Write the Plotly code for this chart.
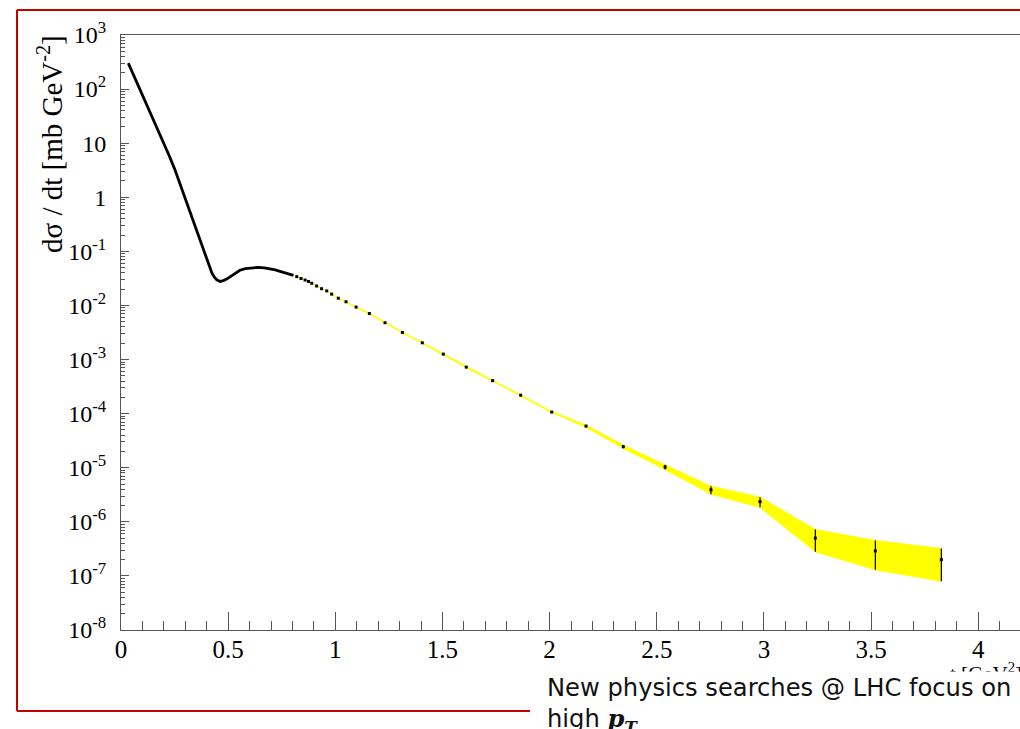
import plotly.graph_objects as go

# Elastic pp differential cross-section dσ/dt versus |t|

# densely measured low-|t| region, drawn as a continuous curve
t_dense = [0.034, 0.06, 0.09, 0.12, 0.15, 0.18, 0.205, 0.225, 0.25, 0.275,
           0.299, 0.33, 0.36, 0.39, 0.41, 0.423, 0.435, 0.447, 0.462, 0.478,
           0.495, 0.509, 0.532, 0.555, 0.58, 0.602, 0.641, 0.67, 0.695, 0.72,
           0.742, 0.765, 0.789, 0.805]
dsdt_dense = [302, 178, 96, 51, 27.7, 14.9, 8.9, 5.85, 3.35, 1.79,
              0.96, 0.425, 0.21, 0.0975, 0.058, 0.041, 0.0335, 0.0297, 0.0278, 0.0288,
              0.0310, 0.0335, 0.0395, 0.0447, 0.0478, 0.0494, 0.0507, 0.0497, 0.0479, 0.0453,
              0.0427, 0.0403, 0.0380, 0.0360]

# individual points at larger |t| with their uncertainties
t_pts = [0.82, 0.84, 0.859, 0.875, 0.89, 0.913, 0.936, 0.96, 0.983,
         1.014, 1.05, 1.097, 1.159, 1.232, 1.313, 1.406, 1.504, 1.611, 1.734,
         1.865, 2.01, 2.17, 2.344, 2.539, 2.753, 2.982, 3.24, 3.52, 3.828]
dsdt_pts = [0.0341, 0.0315, 0.0295, 0.0278, 0.0257, 0.0229, 0.0204, 0.0186, 0.0162,
            0.0136, 0.0117, 0.00933, 0.00708, 0.00479, 0.00316, 0.00204, 0.00126, 7.24e-4, 4.07e-4,
            2.19e-4, 1.07e-4, 5.89e-5, 2.45e-5, 1.03e-5, 3.9e-6, 2.35e-6, 5.0e-7, 2.9e-7, 2.0e-7]
err_pts = [3e-4, 3e-4, 3e-4, 3e-4, 3e-4, 3e-4, 3e-4, 2.5e-4, 2.5e-4,
           2e-4, 1.8e-4, 1.5e-4, 1.1e-4, 8e-5, 5e-5, 3.5e-5, 2.2e-5, 1.3e-5, 7e-6,
           4e-6, 2.1e-6, 2.7e-6, 1.7e-6, 1.0e-6, 6.5e-7, 5.0e-7, 2.2e-7, 1.6e-7, 1.2e-7]

x_tickvals = [0, 0.5, 1, 1.5, 2, 2.5, 3, 3.5, 4]
x_ticktext = ["0", "0.5", "1", "1.5", "2", "2.5", "3", "3.5", "4"]
y_tickvals = [1e3, 1e2, 10, 1, 1e-1, 1e-2, 1e-3, 1e-4, 1e-5, 1e-6, 1e-7, 1e-8]
y_ticktext = ["10<sup>3</sup>", "10<sup>2</sup>", "10", "1", "10<sup>-1</sup>",
              "10<sup>-2</sup>", "10<sup>-3</sup>", "10<sup>-4</sup>", "10<sup>-5</sup>",
              "10<sup>-6</sup>", "10<sup>-7</sup>", "10<sup>-8</sup>"]

W, H = 1020, 729
L, R, T, B = 121, 0, 35, 99
PW, PH = W - L - R, H - T - B


def fx(p):
    return (p - L) / PW


def fy(p):
    return (H - B - p) / PH


fig = go.Figure()

# uncertainty band
band_x = t_pts + t_pts[::-1]
band_y = [v + e for v, e in zip(dsdt_pts, err_pts)] + \
         [v - e for v, e in zip(dsdt_pts, err_pts)][::-1]
fig.add_trace(go.Scatter(x=band_x, y=band_y, mode="lines", fill="toself",
                         fillcolor="#ffff00", line=dict(color="#ffff00", width=1),
                         hoverinfo="skip", showlegend=False))

fig.add_trace(go.Scatter(x=t_dense, y=dsdt_dense, mode="lines",
                         line=dict(color="black", width=2.8),
                         showlegend=False))

fig.add_trace(go.Scatter(x=t_pts, y=dsdt_pts, mode="markers",
                         marker=dict(color="black", size=3, symbol="square"),
                         error_y=dict(type="data", array=err_pts, visible=True,
                                      color="black", thickness=1.2, width=0),
                         showlegend=False))

serif = "Liberation Serif, Times New Roman, serif"
axcol = "#555555"

fig.update_xaxes(range=[0, PW / 214.3], showline=True, linecolor=axcol, linewidth=1,
                 mirror=True, ticks="inside", ticklen=18, tickwidth=1, tickcolor=axcol,
                 tickmode="array", tickvals=x_tickvals, ticktext=x_ticktext,
                 tickfont=dict(family=serif, size=25, color="black"),
                 ticklabelstandoff=-3,
                 showgrid=False, zeroline=False,
                 minor=dict(ticks="inside", ticklen=9, dtick=0.1, tick0=0,
                            tickcolor=axcol, tickwidth=1, showgrid=False))
fig.update_yaxes(type="log", range=[-8, 3], showline=True, linecolor=axcol, linewidth=1,
                 ticks="inside", ticklen=8, tickwidth=1, tickcolor=axcol,
                 tickmode="array", tickvals=y_tickvals, ticktext=y_ticktext,
                 tickfont=dict(family=serif, size=24, color="black"),
                 ticklabelstandoff=9,
                 showgrid=False, zeroline=False,
                 minor=dict(ticks="inside", ticklen=4, dtick="D1",
                            tickcolor=axcol, tickwidth=1, showgrid=False))

red = "#c80000"
fig.update_layout(
    width=W, height=H, margin=dict(l=L, r=R, t=T, b=B, autoexpand=False),
    paper_bgcolor="white", plot_bgcolor="white",
    shapes=[
        dict(type="line", xref="paper", yref="paper", x0=fx(17), x1=fx(1030),
             y0=fy(10), y1=fy(10), line=dict(color=red, width=2)),
        dict(type="line", xref="paper", yref="paper", x0=fx(17), x1=fx(17),
             y0=fy(10), y1=fy(711), line=dict(color=red, width=2)),
        dict(type="line", xref="paper", yref="paper", x0=fx(17), x1=fx(530),
             y0=fy(711), y1=fy(711), line=dict(color=red, width=2)),
    ],
    annotations=[
        dict(xref="paper", yref="paper", x=fx(50), y=fy(33), xanchor="center",
             yanchor="top", textangle=-90, showarrow=False,
             text="dσ / dt [mb GeV<sup>-2</sup>]",
             font=dict(family=serif, size=29, color="black")),
        dict(xref="paper", yref="paper", x=fx(1024), y=fy(657), xanchor="right",
             yanchor="top", showarrow=False, text="-t [GeV<sup>2</sup>]",
             font=dict(family=serif, size=21, color="black")),
        dict(xref="paper", yref="paper", x=fx(544), y=fy(671), xanchor="left",
             yanchor="top", showarrow=False, align="left", width=490,
             bgcolor="white", borderpad=2,
             text="New physics searches @ LHC focus on<br>high "
                  "<span style=\"font-family:DejaVu Serif\"><b><i>p</i></b>"
                  "<sub><b><i>T</i></b></sub></span>",
             font=dict(family="DejaVu Sans, sans-serif", size=24.2,
                       color="#111111")),
    ],
)

fig.write_html("out.html")
